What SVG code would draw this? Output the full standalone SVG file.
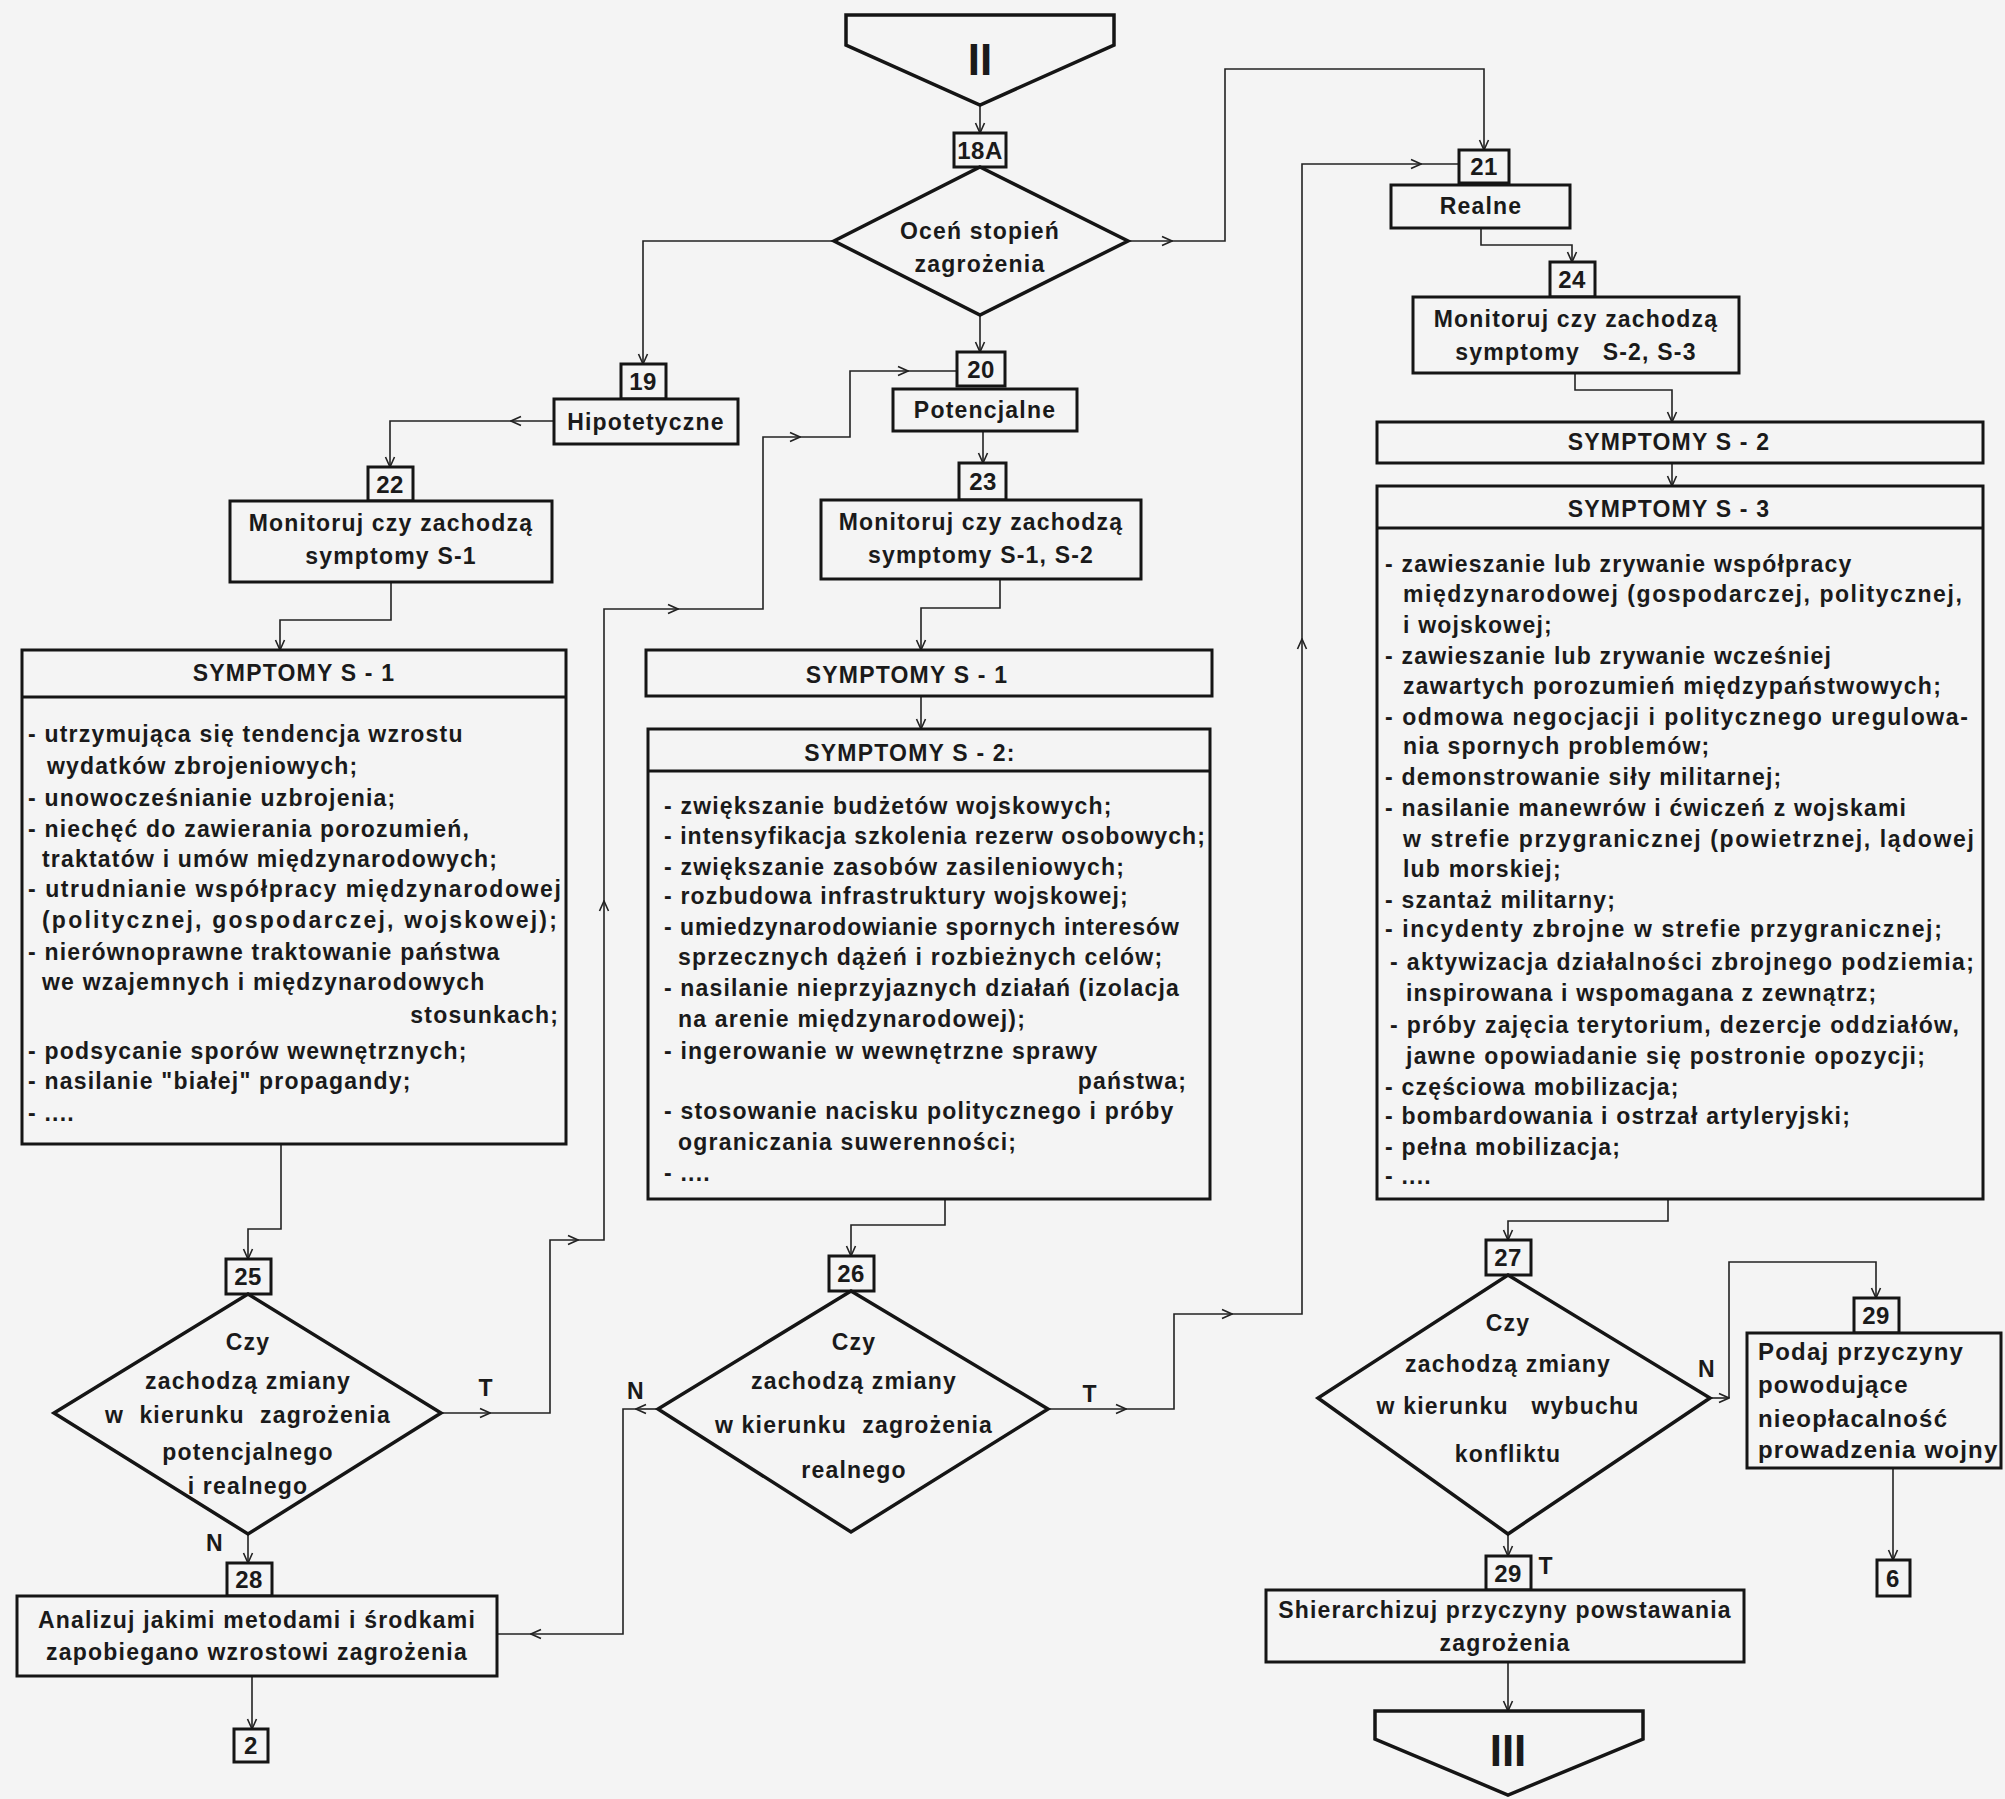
<svg xmlns="http://www.w3.org/2000/svg" width="2005" height="1799" viewBox="0 0 2005 1799" xml:space="preserve">
<style>
.bg{fill:#f4f4f4}
.b{fill:#f4f4f4;stroke:#151515;stroke-width:3}
.d{fill:#f4f4f4;stroke:#151515;stroke-width:3.5;stroke-linejoin:miter}
.c{fill:none;stroke:#222;stroke-width:1.6}
text{font-family:"Liberation Sans",Arial,sans-serif;font-weight:bold;fill:#1a1a1a;font-size:23px;letter-spacing:1.2px;white-space:pre}
.m{text-anchor:middle}
.e{text-anchor:end}
.num{font-size:24px;letter-spacing:0.5px;text-anchor:middle}
.big{font-size:44px;letter-spacing:0px;text-anchor:middle}
.p{font-size:24px}
</style>
<defs>
<marker id="ah" viewBox="0 0 12 12" refX="11" refY="6" markerWidth="12" markerHeight="12" markerUnits="userSpaceOnUse" orient="auto"><path d="M1,1.5 L11,6 L1,10.5" fill="none" stroke="#222" stroke-width="1.6"/></marker>
</defs>
<rect class="bg" x="0" y="0" width="2005" height="1799"/>

<g id="connectors">
<path class="c" d="M980,105 V133" marker-end="url(#ah)"/>
<path class="c" d="M834,241 H643 V364" marker-end="url(#ah)"/>
<path class="c" d="M980,315 V352" marker-end="url(#ah)"/>
<path class="c" d="M1128,241 H1172" marker-end="url(#ah)"/>
<path class="c" d="M1172,241 H1225 V69 H1484 V150" marker-end="url(#ah)"/>
<path class="c" d="M554,421 H511" marker-end="url(#ah)"/>
<path class="c" d="M511,421 H390 V467" marker-end="url(#ah)"/>
<path class="c" d="M391,582 V620 H280 V650" marker-end="url(#ah)"/>
<path class="c" d="M281,1144 V1229 H248 V1259" marker-end="url(#ah)"/>
<path class="c" d="M441,1413 H490" marker-end="url(#ah)"/>
<path class="c" d="M490,1413 H550 V1240 H578" marker-end="url(#ah)"/>
<path class="c" d="M578,1240 H604 V901" marker-end="url(#ah)"/>
<path class="c" d="M604,901 V609 H678" marker-end="url(#ah)"/>
<path class="c" d="M678,609 H763 V437 H800" marker-end="url(#ah)"/>
<path class="c" d="M800,437 H850 V371 H908" marker-end="url(#ah)"/>
<path class="c" d="M908,371 H957"/>
<path class="c" d="M248,1534 V1563" marker-end="url(#ah)"/>
<path class="c" d="M252,1676 V1729" marker-end="url(#ah)"/>
<path class="c" d="M983,431 V463" marker-end="url(#ah)"/>
<path class="c" d="M1000,579 V608 H921 V650" marker-end="url(#ah)"/>
<path class="c" d="M921,696 V729" marker-end="url(#ah)"/>
<path class="c" d="M945,1199 V1225 H851 V1256" marker-end="url(#ah)"/>
<path class="c" d="M1048,1409 H1126" marker-end="url(#ah)"/>
<path class="c" d="M1126,1409 H1174 V1314 H1232" marker-end="url(#ah)"/>
<path class="c" d="M1232,1314 H1302 V639" marker-end="url(#ah)"/>
<path class="c" d="M1302,639 V164 H1421" marker-end="url(#ah)"/>
<path class="c" d="M1421,164 H1459"/>
<path class="c" d="M658,1409 H636" marker-end="url(#ah)"/>
<path class="c" d="M636,1409 H623 V1634 H531" marker-end="url(#ah)"/>
<path class="c" d="M531,1634 H497"/>
<path class="c" d="M1481,228 V245 H1572 V262" marker-end="url(#ah)"/>
<path class="c" d="M1575,373 V390 H1672 V422" marker-end="url(#ah)"/>
<path class="c" d="M1672,463 V486" marker-end="url(#ah)"/>
<path class="c" d="M1668,1199 V1221 H1508 V1240" marker-end="url(#ah)"/>
<path class="c" d="M1710,1398 H1729" marker-end="url(#ah)"/>
<path class="c" d="M1729,1398 V1262 H1876 V1298" marker-end="url(#ah)"/>
<path class="c" d="M1893,1468 V1560" marker-end="url(#ah)"/>
<path class="c" d="M1508,1534 V1556" marker-end="url(#ah)"/>
<path class="c" d="M1508,1662 V1711" marker-end="url(#ah)"/>
<text x="486" y="1396" class="m">T</text>
<text x="215" y="1551" class="m">N</text>
<text x="636" y="1399" class="m">N</text>
<text x="1090" y="1402" class="m">T</text>
<text x="1707" y="1377" class="m">N</text>
<text x="1546" y="1574" class="m">T</text>
</g>

<g id="n-II"><polygon class="d" points="846,15 1114,15 1114,45 980,105 846,45"/><text x="980" y="75" class="big">II</text></g>
<g id="n-18A"><rect class="b" x="954" y="133" width="52" height="34"/><text x="980" y="159" class="num">18A</text></g>
<g id="n-ocen"><polygon class="d" points="980,167 1128,241 980,315 834,241"/><text x="980" y="239" class="m">Oceń stopień</text><text x="980" y="272" class="m">zagrożenia</text></g>

<g id="n-19"><rect class="b" x="621" y="364" width="45" height="35"/><text x="643" y="390" class="num">19</text></g>
<g id="n-hipot"><rect class="b" x="554" y="399" width="184" height="45"/><text x="646" y="430" class="m">Hipotetyczne</text></g>
<g id="n-20"><rect class="b" x="957" y="352" width="48" height="34"/><text x="981" y="378" class="num">20</text></g>
<g id="n-potenc"><rect class="b" x="893" y="389" width="184" height="42"/><text x="985" y="418" class="m">Potencjalne</text></g>
<g id="n-21"><rect class="b" x="1459" y="150" width="50" height="33"/><text x="1484" y="175" class="num">21</text></g>
<g id="n-realne"><rect class="b" x="1391" y="185" width="179" height="43"/><text x="1481" y="214" class="m">Realne</text></g>

<g id="n-22"><rect class="b" x="368" y="467" width="45" height="34"/><text x="390" y="493" class="num">22</text></g>
<g id="n-mon1"><rect class="b" x="230" y="501" width="322" height="81"/><text x="391" y="531" class="m">Monitoruj czy zachodzą</text><text x="391" y="564" class="m">symptomy S-1</text></g>
<g id="n-23"><rect class="b" x="959" y="463" width="47" height="37"/><text x="983" y="490" class="num">23</text></g>
<g id="n-mon2"><rect class="b" x="821" y="500" width="320" height="79"/><text x="981" y="530" class="m">Monitoruj czy zachodzą</text><text x="981" y="563" class="m">symptomy S-1, S-2</text></g>
<g id="n-24"><rect class="b" x="1550" y="262" width="45" height="35"/><text x="1572" y="288" class="num">24</text></g>
<g id="n-mon3"><rect class="b" x="1413" y="297" width="326" height="76"/><text x="1576" y="327" class="m">Monitoruj czy zachodzą</text><text x="1576" y="360" class="m">symptomy   S-2, S-3</text></g>

<g id="n-s1">
<rect class="b" x="22" y="650" width="544" height="494"/>
<line class="b" x1="22" y1="697" x2="566" y2="697"/>
<text x="294" y="681" class="m">SYMPTOMY S - 1</text>
<text x="28" y="742">- utrzymująca się tendencja wzrostu</text>
<text x="47" y="774">wydatków zbrojeniowych;</text>
<text x="28" y="806">- unowocześnianie uzbrojenia;</text>
<text x="28" y="837">- niechęć do zawierania porozumień,</text>
<text x="42" y="867">traktatów i umów międzynarodowych;</text>
<text x="28" y="897" textLength="534">- utrudnianie współpracy międzynarodowej</text>
<text x="42" y="928" textLength="516">(politycznej, gospodarczej, wojskowej);</text>
<text x="28" y="960">- nierównoprawne traktowanie państwa</text>
<text x="42" y="990">we wzajemnych i międzynarodowych</text>
<text x="559" y="1023" class="e">stosunkach;</text>
<text x="28" y="1059">- podsycanie sporów wewnętrznych;</text>
<text x="28" y="1089">- nasilanie "białej" propagandy;</text>
<text x="28" y="1121">- ....</text>
</g>

<g id="n-s1b"><rect class="b" x="646" y="650" width="566" height="46"/><text x="907" y="683" class="m">SYMPTOMY S - 1</text></g>

<g id="n-s2">
<rect class="b" x="648" y="729" width="562" height="470"/>
<line class="b" x1="648" y1="771" x2="1210" y2="771"/>
<text x="910" y="761" class="m">SYMPTOMY S - 2:</text>
<text x="664" y="814">- zwiększanie budżetów wojskowych;</text>
<text x="664" y="844" textLength="542">- intensyfikacja szkolenia rezerw osobowych;</text>
<text x="664" y="875">- zwiększanie zasobów zasileniowych;</text>
<text x="664" y="904">- rozbudowa infrastruktury wojskowej;</text>
<text x="664" y="935" textLength="516">- umiedzynarodowianie spornych interesów</text>
<text x="678" y="965">sprzecznych dążeń i rozbieżnych celów;</text>
<text x="664" y="996" textLength="516">- nasilanie nieprzyjaznych działań (izolacja</text>
<text x="678" y="1027">na arenie międzynarodowej);</text>
<text x="664" y="1059">- ingerowanie w wewnętrzne sprawy</text>
<text x="1187" y="1089" class="e">państwa;</text>
<text x="664" y="1119">- stosowanie nacisku politycznego i próby</text>
<text x="678" y="1150">ograniczania suwerenności;</text>
<text x="664" y="1181">- ....</text>
</g>

<g id="n-s2b"><rect class="b" x="1377" y="422" width="606" height="41"/><text x="1669" y="450" class="m">SYMPTOMY S - 2</text></g>

<g id="n-s3">
<rect class="b" x="1377" y="486" width="606" height="713"/>
<line class="b" x1="1377" y1="528" x2="1983" y2="528"/>
<text x="1669" y="517" class="m">SYMPTOMY S - 3</text>
<text x="1385" y="572">- zawieszanie lub zrywanie współpracy</text>
<text x="1403" y="602" textLength="560">międzynarodowej (gospodarczej, politycznej,</text>
<text x="1403" y="633">i wojskowej;</text>
<text x="1385" y="664">- zawieszanie lub zrywanie wcześniej</text>
<text x="1403" y="694" textLength="539">zawartych porozumień międzypaństwowych;</text>
<text x="1385" y="725" textLength="584">- odmowa negocjacji i politycznego uregulowa-</text>
<text x="1403" y="754">nia spornych problemów;</text>
<text x="1385" y="785">- demonstrowanie siły militarnej;</text>
<text x="1385" y="816">- nasilanie manewrów i ćwiczeń z wojskami</text>
<text x="1403" y="847" textLength="572">w strefie przygranicznej (powietrznej, lądowej</text>
<text x="1403" y="877">lub morskiej;</text>
<text x="1385" y="908">- szantaż militarny;</text>
<text x="1385" y="937" textLength="558">- incydenty zbrojne w strefie przygranicznej;</text>
<text x="1390" y="970" textLength="585">- aktywizacja działalności zbrojnego podziemia;</text>
<text x="1406" y="1001">inspirowana i wspomagana z zewnątrz;</text>
<text x="1390" y="1033" textLength="570">- próby zajęcia terytorium, dezercje oddziałów,</text>
<text x="1406" y="1064" textLength="520">jawne opowiadanie się postronie opozycji;</text>
<text x="1385" y="1095">- częściowa mobilizacja;</text>
<text x="1385" y="1124">- bombardowania i ostrzał artyleryjski;</text>
<text x="1385" y="1155">- pełna mobilizacja;</text>
<text x="1385" y="1184">- ....</text>
</g>

<g id="n-25"><rect class="b" x="226" y="1259" width="45" height="35"/><text x="248" y="1285" class="num">25</text></g>
<g id="n-d25"><polygon class="d" points="248,1294 441,1413 248,1534 54,1413"/>
<text x="248" y="1350" class="m">Czy</text>
<text x="248" y="1389" class="m">zachodzą zmiany</text>
<text x="248" y="1423" class="m">w  kierunku  zagrożenia</text>
<text x="248" y="1460" class="m">potencjalnego</text>
<text x="248" y="1494" class="m">i realnego</text>
</g>
<g id="n-26"><rect class="b" x="829" y="1256" width="45" height="35"/><text x="851" y="1282" class="num">26</text></g>
<g id="n-d26"><polygon class="d" points="851,1291 1048,1409 851,1532 658,1409"/>
<text x="854" y="1350" class="m">Czy</text>
<text x="854" y="1389" class="m">zachodzą zmiany</text>
<text x="854" y="1433" class="m">w kierunku  zagrożenia</text>
<text x="854" y="1478" class="m">realnego</text>
</g>
<g id="n-27"><rect class="b" x="1486" y="1240" width="45" height="35"/><text x="1508" y="1266" class="num">27</text></g>
<g id="n-d27"><polygon class="d" points="1508,1275 1710,1398 1508,1534 1318,1398"/>
<text x="1508" y="1331" class="m">Czy</text>
<text x="1508" y="1372" class="m">zachodzą zmiany</text>
<text x="1508" y="1414" class="m">w kierunku   wybuchu</text>
<text x="1508" y="1462" class="m">konfliktu</text>
</g>

<g id="n-28"><rect class="b" x="227" y="1563" width="45" height="33"/><text x="249" y="1588" class="num">28</text></g>
<g id="n-analizuj"><rect class="b" x="17" y="1596" width="480" height="80"/><text x="257" y="1628" class="m">Analizuj jakimi metodami i środkami</text><text x="257" y="1660" class="m">zapobiegano wzrostowi zagrożenia</text></g>
<g id="n-2"><rect class="b" x="234" y="1729" width="34" height="33"/><text x="251" y="1754" class="num">2</text></g>

<g id="n-29a"><rect class="b" x="1854" y="1298" width="45" height="35"/><text x="1876" y="1324" class="num">29</text></g>
<g id="n-podaj"><rect class="b" x="1747" y="1333" width="254" height="135"/>
<text x="1758" y="1360" class="p">Podaj przyczyny</text>
<text x="1758" y="1393" class="p">powodujące</text>
<text x="1758" y="1427" class="p">nieopłacalność</text>
<text x="1758" y="1458" class="p">prowadzenia wojny</text>
</g>
<g id="n-6"><rect class="b" x="1877" y="1560" width="33" height="36"/><text x="1893" y="1587" class="num">6</text></g>

<g id="n-29b"><rect class="b" x="1486" y="1556" width="45" height="34"/><text x="1508" y="1582" class="num">29</text></g>
<g id="n-shier"><rect class="b" x="1266" y="1590" width="478" height="72"/><text x="1505" y="1618" class="m">Shierarchizuj przyczyny powstawania</text><text x="1505" y="1651" class="m">zagrożenia</text></g>
<g id="n-III"><polygon class="d" points="1375,1711 1643,1711 1643,1739 1508,1795 1375,1739"/><text x="1508" y="1766" class="big">III</text></g>
</svg>
